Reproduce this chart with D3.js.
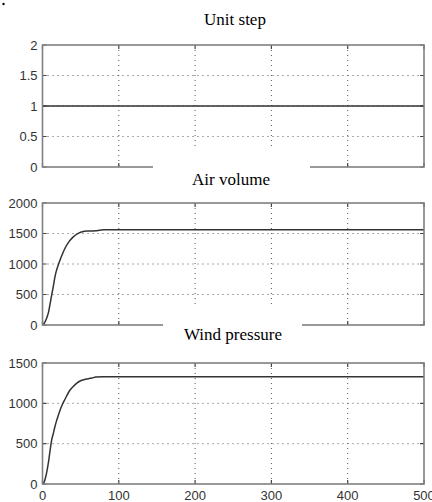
<!DOCTYPE html>
<html><head><meta charset="utf-8">
<script src="https://cdn.jsdelivr.net/npm/d3@7"></script>
<style>html,body{margin:0;padding:0;background:#fff}svg{display:block}</style>
</head><body>
<script>
// ---- data ----
const titles = ["Unit step", "Air volume", "Wind pressure"];
const xTicks = [0, 100, 200, 300, 400, 500];
const yTicksStep = [0, 0.5, 1, 1.5, 2];
const yTicksAir = [0, 500, 1000, 1500, 2000];
const yTicksWind = [0, 500, 1000, 1500];

const stepTime = [0, 500];
const stepValue = [1, 1];

const airTime = [0, 2, 4, 6, 8, 10, 12, 14, 16, 18, 20, 23, 26, 30, 35, 40, 45, 50, 55, 60, 65, 70, 75, 80, 500];
const airValue = [0, 25, 70, 130, 215, 350, 490, 620, 770, 880, 960, 1066, 1160, 1270, 1370, 1440, 1490, 1520, 1535, 1540, 1542, 1545, 1555, 1560, 1560];

const windTime = [0, 2, 4, 6, 8, 10, 12, 14, 16, 18, 20, 23, 26, 30, 35, 40, 45, 50, 55, 60, 65, 70, 80, 500];
const windValue = [0, 20, 80, 170, 280, 420, 545, 620, 700, 770, 830, 915, 985, 1060, 1150, 1205, 1250, 1280, 1295, 1305, 1315, 1325, 1330, 1330];

// ---- layout ----
const W = 432, H = 502;
const x0 = 42.5, x1 = 424;
const panels = [
  {top: 45, bottom: 167, dom: [0, 2], ticks: yTicksStep, t: stepTime, v: stepValue, title: titles[0],
   tx: 235, ty: 25, box: null},
  {top: 203, bottom: 325, dom: [0, 2000], ticks: yTicksAir, t: airTime, v: airValue, title: titles[1],
   tx: 231, ty: 185, box: [153, 149, 157, 41]},
  {top: 363, bottom: 484, dom: [0, 1500], ticks: yTicksWind, t: windTime, v: windValue, title: titles[2],
   tx: 233, ty: 340, box: [163, 305, 139, 40]}
];

const svg = d3.select("body").append("svg").attr("width", W).attr("height", H);

// small dot at top-left
svg.append("circle").attr("cx", 3.5).attr("cy", 4).attr("r", 1.2).attr("fill", "#000");

const x = d3.scaleLinear().domain([0, 500]).range([x0, x1]);
const gridColor = "#555";
const axisColor = "#808080";
const lineColor = "#333";
const labelColor = "#333";

panels.forEach((p, i) => {
  const y = d3.scaleLinear().domain(p.dom).range([p.bottom, p.top]);
  const g = svg.append("g");

  // grid
  g.selectAll(".hg").data(p.ticks.slice(1, -1)).enter().append("line")
    .attr("x1", x0).attr("x2", x1).attr("y1", d => y(d)).attr("y2", d => y(d))
    .attr("stroke", gridColor).attr("stroke-width", 1).attr("stroke-dasharray", "1,4");
  g.selectAll(".vg").data(xTicks.slice(1, -1)).enter().append("line")
    .attr("x1", d => x(d)).attr("x2", d => x(d)).attr("y1", p.top).attr("y2", p.bottom)
    .attr("stroke", gridColor).attr("stroke-width", 1).attr("stroke-dasharray", "1,4");

  // inward ticks on all sides
  const tl = 4;
  g.selectAll(".yt").data(p.ticks).enter().append("path")
    .attr("d", d => `M${x0},${y(d)}h${tl}M${x1},${y(d)}h${-tl}`)
    .attr("stroke", "#444").attr("stroke-width", 1.2);
  g.selectAll(".xt").data(xTicks).enter().append("path")
    .attr("d", d => `M${x(d)},${p.bottom}v${-tl}M${x(d)},${p.top}v${tl}`)
    .attr("stroke", "#444").attr("stroke-width", 1.2);

  // data line
  const pts = p.t.map((t, k) => [t, p.v[k]]);
  g.append("path").datum(pts)
    .attr("d", d3.line().x(d => x(d[0])).y(d => y(d[1])).curve(d3.curveMonotoneX))
    .attr("fill", "none").attr("stroke", lineColor).attr("stroke-width", 1.5);

  // frame
  g.append("rect").attr("x", x0).attr("y", p.top).attr("width", x1 - x0).attr("height", p.bottom - p.top)
    .attr("fill", "none").attr("stroke", axisColor).attr("stroke-width", 1.6);

  // y labels
  g.selectAll(".yl").data(p.ticks).enter().append("text")
    .attr("x", 37.5).attr("y", d => y(d)).attr("dy", "0.36em")
    .attr("text-anchor", "end").attr("font-family", "Liberation Sans, Arial, sans-serif")
    .attr("font-size", 13).attr("fill", labelColor).text(d => d);

  if (i === panels.length - 1) {
    g.selectAll(".xl").data(xTicks).enter().append("text")
      .attr("x", d => x(d)).attr("y", 499.5)
      .attr("text-anchor", "middle").attr("font-family", "Liberation Sans, Arial, sans-serif")
      .attr("font-size", 13).attr("fill", labelColor).text(d => d);
  }
});

// titles (on top, with white boxes covering the panel above)
panels.forEach(p => {
  if (p.box) {
    svg.append("rect").attr("x", p.box[0]).attr("y", p.box[1]).attr("width", p.box[2]).attr("height", p.box[3])
      .attr("fill", "#fff");
  }
  svg.append("text").attr("x", p.tx).attr("y", p.ty).attr("text-anchor", "middle")
    .attr("font-family", "Liberation Serif, Times New Roman, serif").attr("font-size", 17)
    .attr("fill", "#000").text(p.title);
});
</script>
</body></html>
